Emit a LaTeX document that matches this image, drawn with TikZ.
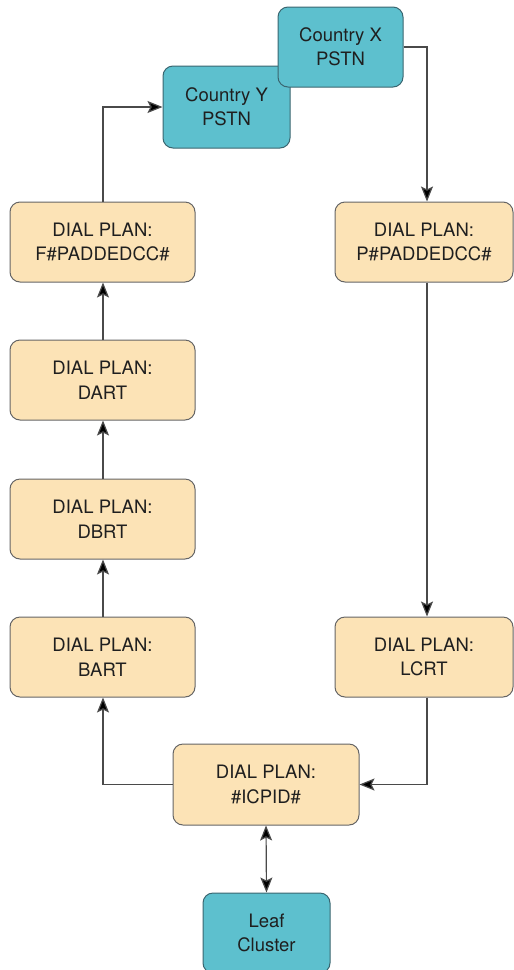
\documentclass[tikz,border=0pt]{standalone}
\usepackage{fontspec}
\setmainfont{TeX Gyre Heros}
\usetikzlibrary{arrows.meta}
\definecolor{planfill}{HTML}{FCE3B6}
\definecolor{planline}{HTML}{656565}
\definecolor{netfill}{HTML}{5DC0CE}
\definecolor{netline}{HTML}{3A6670}
\definecolor{wire}{HTML}{4A4A4A}
\begin{document}
\begin{tikzpicture}[x=1pt,y=-1pt,
  box/.style={draw, rounded corners=10pt, line width=1pt, align=center,
    font=\fontsize{18.5}{24.5}\selectfont, text=black!88, inner sep=0pt},
  plan/.style={box, fill=planfill, draw=planline},
  net/.style={box, fill=netfill, draw=netline},
  link/.style={draw=wire, line width=1.2pt,
    -{Stealth[length=15pt,width=12pt,inset=3pt,fill=black]}},
  both/.style={draw=wire, line width=1.2pt,
    {Stealth[length=15pt,width=12pt,inset=3pt,fill=black]}-{Stealth[length=15pt,width=12pt,inset=3pt,fill=black]}}]
\useasboundingbox (0,0) rectangle (514,970);

% left column of dial plans
\node[plan, minimum width=185pt, minimum height=80pt] (fp) at (102.5,242) {DIAL PLAN:\\F\#PADDEDCC\#};
\node[plan, minimum width=185pt, minimum height=80pt] (dart) at (102.5,380) {DIAL PLAN:\\DART};
\node[plan, minimum width=185pt, minimum height=80pt] (dbrt) at (102.5,519) {DIAL PLAN:\\DBRT};
\node[plan, minimum width=185pt, minimum height=80pt] (bart) at (102.5,657) {DIAL PLAN:\\BART};

% right column of dial plans
\node[plan, minimum width=178pt, minimum height=80pt] (pp) at (424,242) {DIAL PLAN:\\P\#PADDEDCC\#};
\node[plan, minimum width=178pt, minimum height=80pt] (lcrt) at (424,657) {DIAL PLAN:\\LCRT};

% shared plan and the leaf cluster
\node[plan, minimum width=186pt, minimum height=81pt] (icpid) at (266,784.5) {DIAL PLAN:\\\#ICPID\#};
\node[net, minimum width=127pt, minimum height=80pt] (leaf) at (266.5,933) {Leaf\\Cluster};

% PSTN clouds
\node[net, minimum width=127pt, minimum height=82pt] (cy) at (226.5,107) {Country Y\\PSTN};
\node[net, minimum width=125pt, minimum height=80pt] (cx) at (340.5,47) {Country X\\PSTN};

% connectors
\coordinate (xr) at (427,0);
\coordinate (fx) at (103,0);
\draw[link] (fp.north -| fx) |- (cy.west);
\draw[link] (cx.east) -| (pp.north -| xr);
\draw[link] (pp.south -| xr) -- (lcrt.north -| xr);
\draw[link] (lcrt.south -| xr) |- (icpid.east);
\draw[link] (icpid.west) -| (bart.south -| fx);
\draw[link] (bart.north -| fx) -- (dbrt.south -| fx);
\draw[link] (dbrt.north -| fx) -- (dart.south -| fx);
\draw[link] (dart.north -| fx) -- (fp.south -| fx);
\draw[both] (icpid.south) -- (leaf.north);
\end{tikzpicture}
\end{document}
